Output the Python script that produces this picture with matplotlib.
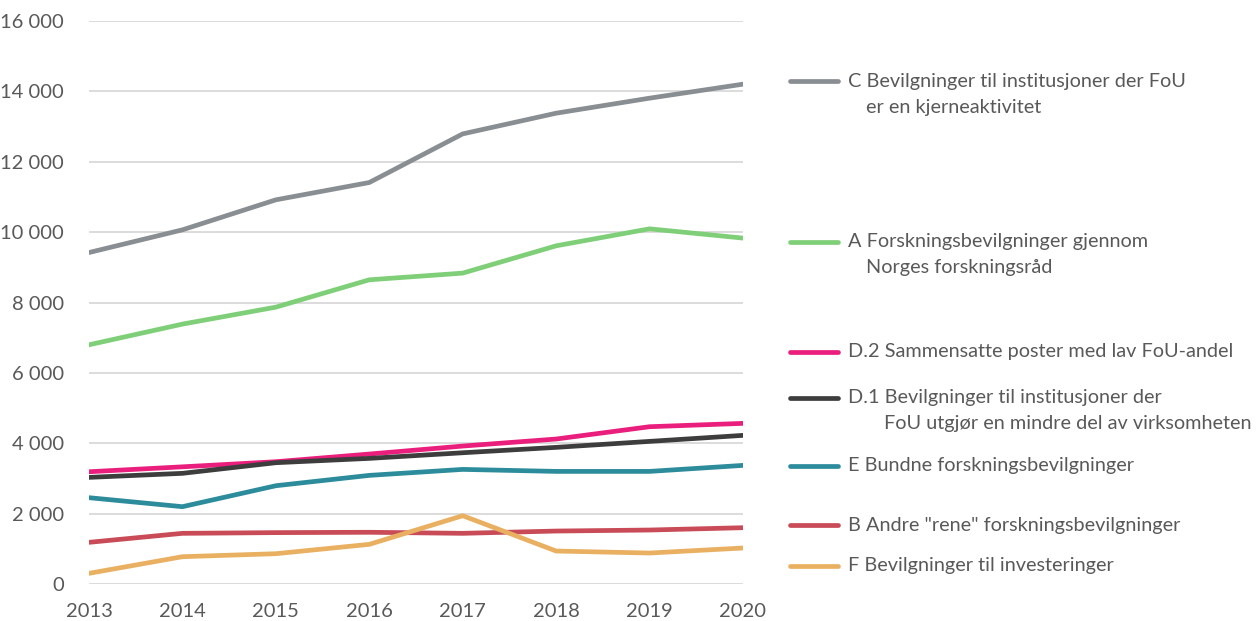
import matplotlib
matplotlib.use("Agg")
import matplotlib.pyplot as plt
from matplotlib.lines import Line2D
from matplotlib.ticker import FuncFormatter

plt.rcParams['font.family'] = ['Lato', 'DejaVu Sans']

years = [2013, 2014, 2015, 2016, 2017, 2018, 2019, 2020]
C = [9420, 10065, 10918, 11410, 12792, 13380, 13807, 14205]
A = [6798, 7386, 7868, 8645, 8835, 9611, 10094, 9830]
D2 = [3190, 3330, 3475, 3693, 3920, 4120, 4470, 4565]
D1 = [3030, 3145, 3447, 3570, 3730, 3883, 4053, 4224]
E = [2453, 2197, 2793, 3087, 3257, 3200, 3200, 3371]
B = [1184, 1440, 1460, 1470, 1440, 1505, 1534, 1600]
F = [303, 776, 861, 1127, 1941, 937, 880, 1023]

series = [
    (C, '#898e93', ["C Bevilgninger til institusjoner der FoU", "er en kjerneaktivitet"]),
    (A, '#7fcf78', ["A Forskningsbevilgninger gjennom", "Norges forskningsråd"]),
    (D2, '#ea1e7c', ["D.2 Sammensatte poster med lav FoU-andel"]),
    (D1, '#3d3d3d', ["D.1 Bevilgninger til institusjoner der", "FoU utgjør en mindre del av virksomheten"]),
    (E, '#2c8c9b', ["E Bundne forskningsbevilgninger"]),
    (B, '#c84b57', ['B Andre "rene" forskningsbevilgninger']),
    (F, '#e9b062', ["F Bevilgninger til investeringer"]),
]
yticks = [0, 2000, 4000, 6000, 8000, 10000, 12000, 14000, 16000]

fig = plt.figure(figsize=(12.6, 6.21), dpi=100)
ax = fig.add_axes([89/1260, 1-584/621, (743-89)/1260, (584-21)/621])

for vals, col, _ in series:
    ax.plot(years, vals, color=col, lw=3.4, solid_capstyle='round', zorder=3)

ax.set_xlim(2013, 2020)
ax.set_ylim(0, 16000)
ax.set_yticks(yticks)
ax.set_xticks(years)
ax.yaxis.set_major_formatter(FuncFormatter(lambda v, p: f"{int(v):,}".replace(",", " ")))
ax.grid(axis='y', color='#d9d9d9', lw=1.3, zorder=0)
for s in ax.spines.values():
    s.set_visible(False)
ax.tick_params(axis='both', length=0, labelsize=14.5, labelcolor='#595959')
ax.tick_params(axis='y', pad=18)
ax.tick_params(axis='x', pad=14)

# legend
ys = [81, 242, 352, 398, 466, 525, 566]
indent = [866, 866, None, 884, None, None, None]
for (vals, col, lab), y, ind in zip(series, ys, indent):
    fy = 1 - y/621
    fig.add_artist(Line2D([790/1260, 838/1260], [fy, fy], color=col, lw=3.4,
                          solid_capstyle='round', transform=fig.transFigure))
    fig.text(848/1260, fy, lab[0], fontsize=14.3, color='#595959', va='center', ha='left')
    if len(lab) > 1:
        fig.text(ind/1260, 1 - (y+26)/621, lab[1], fontsize=14.3, color='#595959',
                 va='center', ha='left')

fig.savefig("out.png", dpi=100)
